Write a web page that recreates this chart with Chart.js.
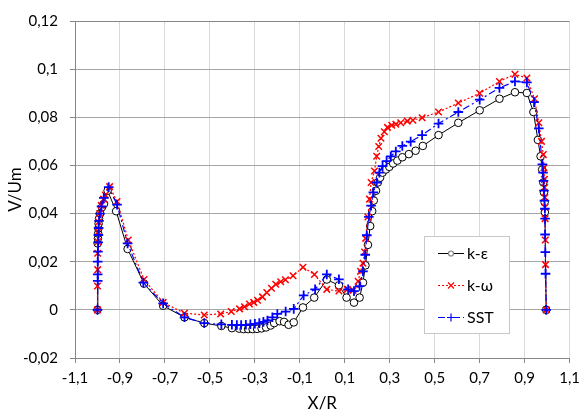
<!DOCTYPE html>
<html>
<head>
<meta charset="utf-8">
<script src="https://cdn.jsdelivr.net/npm/chart.js@4.4.0/dist/chart.umd.min.js"></script>
<style>
  html, body { margin: 0; padding: 0; background: #fff; }
  #wrap { width: 586px; height: 416px; }
</style>
</head>
<body>
<div id="wrap"><canvas id="chart"></canvas></div>
<script>
// k-epsilon
const keX = [-1.000, -0.999, -0.998, -0.997, -0.996, -0.995, -0.993, -0.988, -0.980, -0.971,
  -0.955, -0.917, -0.866, -0.793, -0.708, -0.613, -0.525, -0.449, -0.402, -0.370,
  -0.350, -0.330, -0.310, -0.290, -0.270, -0.250, -0.230, -0.214, -0.190, -0.170,
  -0.150, -0.127, -0.086, -0.036, 0.020, 0.074, 0.108, 0.141, 0.166, 0.181,
  0.192, 0.203, 0.213, 0.222, 0.229, 0.239, 0.247, 0.257, 0.268, 0.283,
  0.298, 0.315, 0.334, 0.356, 0.385, 0.415, 0.447, 0.517, 0.605, 0.700,
  0.788, 0.857, 0.910, 0.939, 0.959, 0.971, 0.978, 0.983, 0.986, 0.989,
  0.990, 0.996];
const keY = [0.0000, 0.0276, 0.0297, 0.0317, 0.0338, 0.0358, 0.0379, 0.0400, 0.0426, 0.0440,
  0.0495, 0.0410, 0.0253, 0.0109, 0.0017, -0.0031, -0.0055, -0.0067, -0.0076, -0.0078,
  -0.0080, -0.0080, -0.0080, -0.0079, -0.0077, -0.0073, -0.0065, -0.0055, -0.0047, -0.0050,
  -0.0062, -0.0052, 0.0010, 0.0051, 0.0126, 0.0102, 0.0051, 0.0030, 0.0051, 0.0113,
  0.0185, 0.0270, 0.0348, 0.0410, 0.0454, 0.0495, 0.0529, 0.0549, 0.0570, 0.0583,
  0.0594, 0.0608, 0.0620, 0.0634, 0.0647, 0.0661, 0.0681, 0.0726, 0.0777, 0.0829,
  0.0877, 0.0904, 0.0901, 0.0822, 0.0706, 0.0638, 0.0583, 0.0529, 0.0488, 0.0447,
  0.0406, 0.0000];

// k-omega
const kwX = [-1.000, -1.000, -0.999, -0.999, -0.998, -0.997, -0.995, -0.990, -0.983, -0.973,
  -0.965, -0.946, -0.913, -0.863, -0.793, -0.708, -0.613, -0.525, -0.452, -0.405,
  -0.368, -0.346, -0.324, -0.305, -0.288, -0.266, -0.247, -0.226, -0.207, -0.185,
  -0.164, -0.130, -0.086, -0.035, 0.020, 0.074, 0.111, 0.137, 0.159, 0.170,
  0.181, 0.188, 0.193, 0.203, 0.210, 0.217, 0.232, 0.242, 0.251, 0.261,
  0.276, 0.290, 0.309, 0.327, 0.349, 0.378, 0.403, 0.444, 0.517, 0.605,
  0.700, 0.788, 0.857, 0.910, 0.944, 0.963, 0.975, 0.983, 0.986, 0.988,
  0.989, 0.990, 0.990, 0.991, 0.992, 0.993, 0.996];
const kwY = [0.0000, 0.0099, 0.0167, 0.0235, 0.0283, 0.0324, 0.0365, 0.0400, 0.0434, 0.0460,
  0.0477, 0.0512, 0.0450, 0.0290, 0.0126, 0.0031, -0.0014, -0.0021, -0.0017, -0.0007,
  0.0004, 0.0013, 0.0024, 0.0031, 0.0040, 0.0054, 0.0072, 0.0090, 0.0106, 0.0117,
  0.0125, 0.0142, 0.0177, 0.0147, 0.0085, 0.0078, 0.0085, 0.0081, 0.0119, 0.0160,
  0.0194, 0.0240, 0.0297, 0.0386, 0.0460, 0.0529, 0.0577, 0.0638, 0.0679, 0.0713,
  0.0740, 0.0758, 0.0767, 0.0771, 0.0777, 0.0784, 0.0788, 0.0798, 0.0822, 0.0859,
  0.0900, 0.0949, 0.0979, 0.0963, 0.0877, 0.0777, 0.0700, 0.0645, 0.0590, 0.0542,
  0.0508, 0.0467, 0.0426, 0.0379, 0.0290, 0.0188, 0.0000];

// SST
const sstX = [-1.000, -0.999, -0.999, -0.999, -0.998, -0.997, -0.996, -0.995, -0.993, -0.989,
  -0.982, -0.972, -0.950, -0.913, -0.866, -0.796, -0.708, -0.613, -0.525, -0.449,
  -0.402, -0.380, -0.361, -0.340, -0.320, -0.300, -0.280, -0.262, -0.244, -0.222,
  -0.200, -0.163, -0.127, -0.083, -0.032, 0.020, 0.074, 0.115, 0.141, 0.166,
  0.181, 0.191, 0.198, 0.207, 0.217, 0.227, 0.242, 0.254, 0.268, 0.286,
  0.305, 0.327, 0.356, 0.393, 0.444, 0.517, 0.605, 0.700, 0.788, 0.857,
  0.910, 0.942, 0.963, 0.979, 0.982, 0.984, 0.986, 0.988, 0.990, 0.991,
  0.991, 0.992, 0.993, 0.996];
const sstY = [0.0000, 0.0120, 0.0147, 0.0200, 0.0242, 0.0280, 0.0311, 0.0340, 0.0370, 0.0400,
  0.0430, 0.0465, 0.0510, 0.0437, 0.0276, 0.0113, 0.0027, -0.0031, -0.0055, -0.0060,
  -0.0062, -0.0063, -0.0063, -0.0062, -0.0060, -0.0058, -0.0055, -0.0050, -0.0044, -0.0031,
  -0.0017, -0.0007, 0.0004, 0.0060, 0.0085, 0.0147, 0.0127, 0.0085, 0.0078, 0.0099,
  0.0160, 0.0229, 0.0310, 0.0386, 0.0433, 0.0488, 0.0529, 0.0570, 0.0597, 0.0618,
  0.0638, 0.0658, 0.0681, 0.0699, 0.0726, 0.0774, 0.0822, 0.0873, 0.0922, 0.0949,
  0.0945, 0.0863, 0.0754, 0.0604, 0.0570, 0.0536, 0.0495, 0.0454, 0.0420, 0.0379,
  0.0313, 0.0240, 0.0150, 0.0000];

const xTicks = [-1.1, -0.9, -0.7, -0.5, -0.3, -0.1, 0.1, 0.3, 0.5, 0.7, 0.9, 1.1];
const yTicks = [-0.02, 0, 0.02, 0.04, 0.06, 0.08, 0.1, 0.12];
const seriesNames = ['k-ε', 'k-ω', 'SST'];

function pts(xs, ys) { return xs.map((x, i) => ({ x: x, y: ys[i] })); }
function fmt(v, d) { return String(parseFloat(v.toFixed(d))).replace('.', ','); }

const FONT = 'Lato, "Open Sans", sans-serif';

const legendBox = {
  id: 'legendBox',
  afterDraw(chart) {
    const ctx = chart.ctx;
    ctx.save();
    ctx.fillStyle = '#ffffff';
    ctx.strokeStyle = '#c8c8c8';
    ctx.lineWidth = 1;
    ctx.fillRect(424.5, 236.5, 85, 97);
    ctx.strokeRect(424.5, 236.5, 85, 97);
    chart.data.datasets.forEach((ds, i) => {
      const y = 253 + i * 32;
      ctx.strokeStyle = ds.borderColor;
      ctx.lineWidth = 1;
      ctx.setLineDash(ds.borderDash || []);
      ctx.beginPath();
      ctx.moveTo(438, y + 0.5);
      ctx.lineTo(464, y + 0.5);
      ctx.stroke();
      ctx.setLineDash([]);
      const cx = 451, cy = y + 0.5, r = 3;
      ctx.lineWidth = 1.2;
      ctx.strokeStyle = ds.pointBorderColor;
      ctx.beginPath();
      if (ds.pointStyle === 'circle') {
        ctx.fillStyle = '#fff';
        ctx.strokeStyle = '#808080';
        ctx.arc(cx, cy, 2.5, 0, Math.PI * 2);
        ctx.fill();
      } else if (ds.pointStyle === 'crossRot') {
        ctx.moveTo(cx - r, cy - r); ctx.lineTo(cx + r, cy + r);
        ctx.moveTo(cx - r, cy + r); ctx.lineTo(cx + r, cy - r);
      } else {
        ctx.moveTo(cx - r - 1, cy); ctx.lineTo(cx + r + 1, cy);
        ctx.moveTo(cx, cy - r - 1); ctx.lineTo(cx, cy + r + 1);
      }
      ctx.stroke();
      ctx.fillStyle = '#000';
      ctx.font = '16px ' + FONT;
      ctx.textBaseline = 'middle';
      ctx.textAlign = 'left';
      ctx.fillText(seriesNames[i], 467, y + 1);
    });
    ctx.restore();
  }
};

new Chart(document.getElementById('chart'), {
  type: 'scatter',
  data: {
    datasets: [{
      label: seriesNames[0],
      data: pts(keX, keY),
      showLine: true,
      borderColor: '#000000',
      borderWidth: 1,
      pointStyle: 'circle',
      pointRadius: 3.8,
      pointBackgroundColor: '#ffffff',
      pointBorderColor: '#000000',
      pointBorderWidth: 1,
      order: 2
    }, {
      label: seriesNames[1],
      data: pts(kwX, kwY),
      showLine: true,
      borderColor: '#ff0000',
      borderWidth: 1.2,
      borderDash: [2, 2],
      pointStyle: 'crossRot',
      pointRadius: 4.6,
      pointBorderColor: '#ff0000',
      pointBorderWidth: 1.5,
      order: 1
    }, {
      label: seriesNames[2],
      data: pts(sstX, sstY),
      showLine: true,
      borderColor: '#0000ff',
      borderWidth: 1.2,
      borderDash: [7, 3, 2, 3],
      pointStyle: 'cross',
      pointRadius: 4.8,
      pointBorderColor: '#0000ff',
      pointBorderWidth: 1.8,
      order: 0
    }]
  },
  options: {
    responsive: true,
    maintainAspectRatio: false,
    animation: false,
    layout: { padding: { left: 0, right: 10, top: 16, bottom: 0 } },
    plugins: {
      legend: { display: false },
      tooltip: { enabled: false }
    },
    scales: {
      x: {
        type: 'linear',
        min: -1.1,
        max: 1.1,
        afterBuildTicks: s => { s.ticks = xTicks.map(v => ({ value: v })); },
        afterFit: s => { s.height = 58; },
        ticks: {
          callback: v => fmt(v, 1),
          font: { family: FONT, size: 15 },
          color: '#000',
          padding: 6,
          maxRotation: 0,
          autoSkip: false
        },
        grid: { color: '#d9d9d9', tickColor: '#868686', tickLength: 5 },
        border: { color: '#868686' },
        title: {
          display: true,
          text: 'X/R',
          font: { family: FONT, size: 17 },
          color: '#000',
          padding: { top: 0, bottom: 2 }
        }
      },
      y: {
        type: 'linear',
        min: -0.02,
        max: 0.12,
        afterBuildTicks: s => { s.ticks = yTicks.map(v => ({ value: v })); },
        afterFit: s => { s.width = 75; },
        ticks: {
          callback: v => fmt(v, 2),
          font: { family: FONT, size: 15 },
          color: '#000',
          padding: 12
        },
        grid: {
          color: ctx => (ctx.tick && ctx.tick.value > 0.119) ? '#868686' : '#a6a6a6',
          tickColor: '#868686',
          tickLength: 5
        },
        border: { color: '#868686' },
        title: {
          display: true,
          text: 'V/Um',
          font: { family: FONT, size: 17 },
          color: '#000',
          padding: { top: 5, bottom: 0 }
        }
      }
    }
  },
  plugins: [legendBox]
});
</script>
</body>
</html>
